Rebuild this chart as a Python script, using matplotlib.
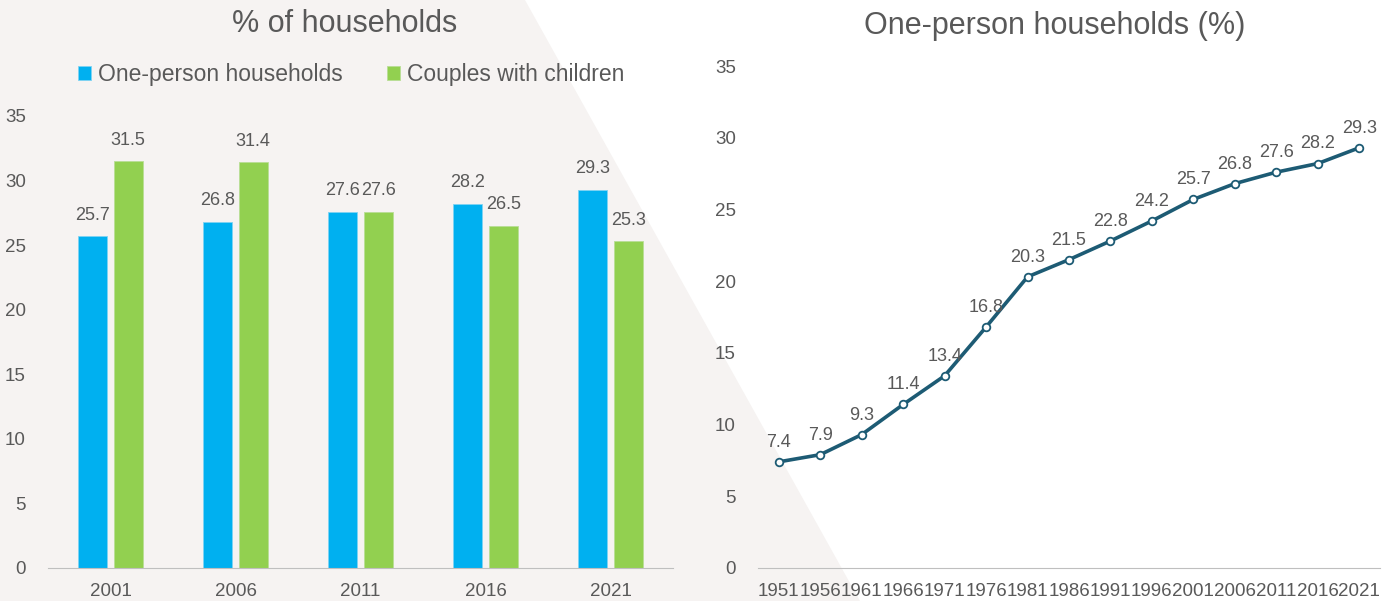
import matplotlib.pyplot as plt
from matplotlib.patches import Polygon
import numpy as np

plt.rcParams['font.family'] = ['Liberation Sans', 'DejaVu Sans']

# left chart data
bar_years = ['2001', '2006', '2011', '2016', '2021']
one_person = [25.7, 26.8, 27.6, 28.2, 29.3]
couples_children = [31.5, 31.4, 27.6, 26.5, 25.3]

# right chart data
line_years = ['1951', '1956', '1961', '1966', '1971', '1976', '1981', '1986',
              '1991', '1996', '2001', '2006', '2011', '2016', '2021']
one_person_hist = [7.4, 7.9, 9.3, 11.4, 13.4, 16.8, 20.3, 21.5,
                   22.8, 24.2, 25.7, 26.8, 27.6, 28.2, 29.3]

txt = '#595959'
blue = '#00b0f0'
green = '#92d050'
line_col = '#1d5b74'

W, H = 1392, 601
fig = plt.figure(figsize=(W / 100, H / 100), dpi=100)
fig.patch.set_facecolor('white')

# background shape behind left chart
bg = Polygon([(0, 1), (525 / W, 1), (860 / W, 0), (0, 0)], closed=True,
             transform=fig.transFigure, facecolor='#f6f3f2', edgecolor='none', zorder=-10)
fig.patches.append(bg)

# ---- left: grouped bars ----
ax1 = fig.add_axes([48 / W, 1 - 568 / H, 625 / W, 452 / H])
ax1.set_facecolor('none')
x = np.arange(len(bar_years))
w = 0.23
b1 = ax1.bar(x - 0.142, one_person, w, color=blue, edgecolor='#7fd3f3', linewidth=0.6,
             label='One-person households')
b2 = ax1.bar(x + 0.142, couples_children, w, color=green, edgecolor='#b9de96', linewidth=0.6,
             label='Couples with children')
for bars, vals in [(b1, one_person), (b2, couples_children)]:
    for r, v in zip(bars, vals):
        ax1.annotate(f'{v}', (r.get_x() + r.get_width() / 2, v), xytext=(0, 9),
                     textcoords='offset points', ha='center', va='bottom',
                     fontsize=13, color=txt)
ax1.set_xlim(-0.5, 4.5)
ax1.set_ylim(0, 35)
ax1.set_yticks(range(0, 36, 5))
ax1.set_xticks(x)
ax1.set_xticklabels(bar_years)
ax1.tick_params(length=0, labelsize=13.5, labelcolor=txt)
ax1.tick_params(axis='y', pad=16)
ax1.tick_params(axis='x', pad=11)
for s in ['top', 'right', 'left']:
    ax1.spines[s].set_visible(False)
ax1.spines['bottom'].set_color('#bfbfbf')
ax1.legend(loc='center', bbox_to_anchor=(0.485, 1.091), ncol=2, frameon=False,
           fontsize=16.5, labelcolor=txt, handlelength=0.55, handleheight=0.55,
           handletextpad=0.3, columnspacing=1.95)
fig.text(345 / W, 1 - 24 / H, '% of households', ha='center', va='center',
         fontsize=22, color=txt)

# ---- right: line ----
ax2 = fig.add_axes([758 / W, 1 - 568 / H, 622 / W, 502 / H])
ax2.set_facecolor('none')
xl = np.arange(len(line_years))
ax2.plot(xl, one_person_hist, color=line_col, linewidth=2.6, marker='o',
         markersize=5.5, markerfacecolor='white', markeredgecolor=line_col,
         markeredgewidth=1.3, zorder=3)
for xi, v in zip(xl, one_person_hist):
    ax2.annotate(f'{v}', (xi, v), xytext=(0, 8), textcoords='offset points',
                 ha='center', va='bottom', fontsize=13, color=txt)
ax2.set_xlim(-0.5, 14.5)
ax2.set_ylim(0, 35)
ax2.set_yticks(range(0, 36, 5))
ax2.set_xticks(xl)
ax2.set_xticklabels(line_years)
ax2.tick_params(length=0, labelsize=13.5, labelcolor=txt)
ax2.tick_params(axis='y', pad=16)
ax2.tick_params(axis='x', pad=11)
for s in ['top', 'right', 'left']:
    ax2.spines[s].set_visible(False)
ax2.spines['bottom'].set_color('#bfbfbf')
fig.text(1055 / W, 1 - 26 / H, 'One-person households (%)', ha='center', va='center',
         fontsize=22, color=txt)

fig.savefig('out.png', dpi=100)
